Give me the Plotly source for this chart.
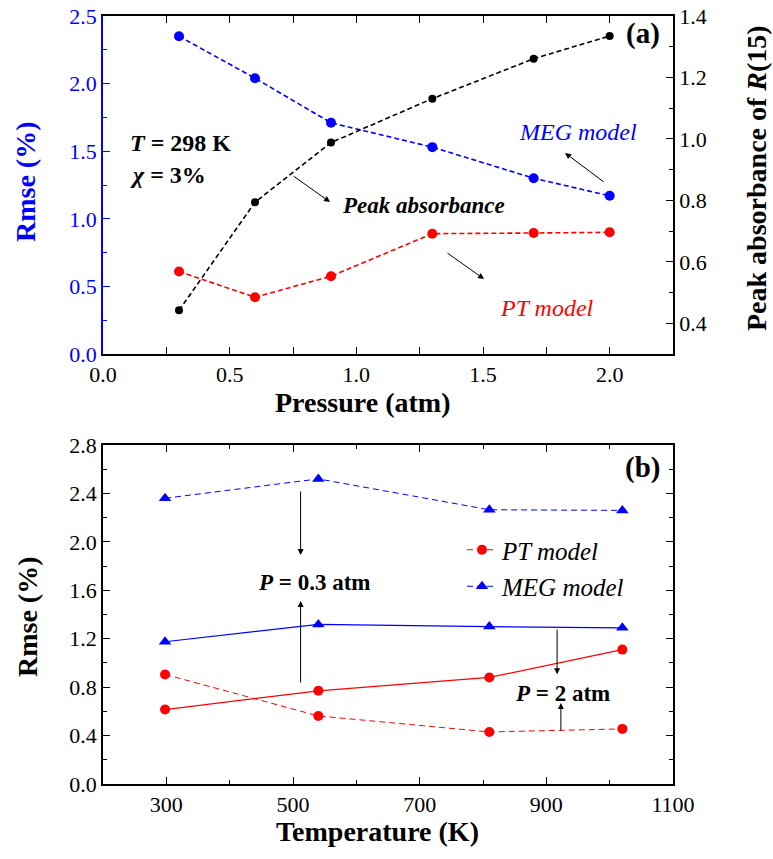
import plotly.graph_objects as go

# ---- data: panel (a) ----
pressure = [0.3, 0.6, 0.9, 1.3, 1.7, 2.0]
rmse_meg_a = [2.35, 2.04, 1.71, 1.53, 1.30, 1.17]
rmse_pt_a = [0.61, 0.42, 0.575, 0.89, 0.895, 0.90]
peak_abs = [0.442, 0.794, 0.988, 1.131, 1.261, 1.335]

# ---- data: panel (b) ----
temperature = [298, 540, 810, 1020]
pt_p03 = [0.905, 0.562, 0.43, 0.455]
pt_p2 = [0.615, 0.77, 0.88, 1.11]
meg_p03 = [2.36, 2.52, 2.265, 2.26]
meg_p2 = [1.175, 1.318, 1.30, 1.29]

BLUE = "#0000FF"
RED = "#FF0000"
FONT = "Liberation Serif"

W, H = 773, 859
XL, XR = 103, 673
A_T, A_B = 16, 354
B_T, B_B = 445, 784

def px(xp):
    return (xp - XL) / (XR - XL)

def py(yp):
    return 1 - yp / H

fig = go.Figure()

# panel (a)
fig.add_trace(go.Scatter(x=pressure, y=rmse_meg_a, mode="lines+markers",
                         line=dict(color=BLUE, width=1.6, dash="5px,3px"),
                         marker=dict(color=BLUE, size=10, symbol="circle"),
                         xaxis="x", yaxis="y", showlegend=False))
fig.add_trace(go.Scatter(x=pressure, y=rmse_pt_a, mode="lines+markers",
                         line=dict(color=RED, width=1.6, dash="5px,3px"),
                         marker=dict(color=RED, size=10, symbol="circle"),
                         xaxis="x", yaxis="y", showlegend=False))
fig.add_trace(go.Scatter(x=pressure, y=peak_abs, mode="lines+markers",
                         line=dict(color="black", width=1.6, dash="5px,3px"),
                         marker=dict(color="black", size=8, symbol="circle"),
                         xaxis="x", yaxis="y2", showlegend=False))

# panel (b)
fig.add_trace(go.Scatter(x=temperature, y=pt_p03, mode="lines+markers", name="<i>PT model</i>",
                         line=dict(color=RED, width=1, dash="6px,4px"),
                         marker=dict(color=RED, size=10, symbol="circle"),
                         xaxis="x2", yaxis="y3", showlegend=True, legendgroup="pt"))
fig.add_trace(go.Scatter(x=temperature, y=meg_p03, mode="lines+markers", name="<i>MEG model</i>",
                         line=dict(color=BLUE, width=1, dash="6px,4px"),
                         marker=dict(color=BLUE, size=11, symbol="triangle-up"),
                         xaxis="x2", yaxis="y3", showlegend=True, legendgroup="meg"))
fig.add_trace(go.Scatter(x=temperature, y=pt_p2, mode="lines+markers",
                         line=dict(color=RED, width=1.2),
                         marker=dict(color=RED, size=10, symbol="circle"),
                         xaxis="x2", yaxis="y3", showlegend=False))
fig.add_trace(go.Scatter(x=temperature, y=meg_p2, mode="lines+markers",
                         line=dict(color=BLUE, width=1.2),
                         marker=dict(color=BLUE, size=11, symbol="triangle-up"),
                         xaxis="x2", yaxis="y3", showlegend=False))

TICK = 22
tickfont = dict(family=FONT, size=TICK, color="black")

def axcommon(**kw):
    d = dict(showline=True, linewidth=1.6, linecolor="black", ticks="inside", ticklen=7,
             tickwidth=1.3, tickcolor="black", showgrid=False, zeroline=False,
             tickfont=tickfont, automargin=False)
    d.update(kw)
    return d

fig.update_layout(
    width=W, height=H,
    margin=dict(l=XL, r=W - XR, t=0, b=0),
    paper_bgcolor="white", plot_bgcolor="white",
    font=dict(family=FONT, color="black"),
    xaxis=axcommon(domain=[0, 1], anchor="y", range=[0, 2.25], tick0=0, dtick=0.5,
                   tickformat=".1f", mirror="allticks",
                   minor=dict(ticks="inside", ticklen=4, dtick=0.25, tickcolor="black", tickwidth=1.3)),
    yaxis=axcommon(domain=[py(A_B), py(A_T)], anchor="x", range=[0, 2.5], tick0=0, dtick=0.5,
                   tickformat=".1f", linecolor=BLUE, tickcolor=BLUE,
                   tickfont=dict(family=FONT, size=TICK, color=BLUE),
                   minor=dict(ticks="inside", ticklen=4, dtick=0.25, tickcolor=BLUE, tickwidth=1.3)),
    yaxis2=axcommon(overlaying="y", side="right", anchor="x", range=[0.3, 1.4], tick0=0.4, dtick=0.2,
                    tickformat=".1f",
                    minor=dict(ticks="inside", ticklen=4, dtick=0.1, tickcolor="black", tickwidth=1.3)),
    xaxis2=axcommon(domain=[0, 1], anchor="y3", range=[200, 1100], tick0=300, dtick=200,
                    mirror="allticks",
                    minor=dict(ticks="inside", ticklen=4, dtick=100, tickcolor="black", tickwidth=1.3)),
    yaxis3=axcommon(domain=[py(B_B), py(B_T)], anchor="x2", range=[0, 2.8], tick0=0, dtick=0.4,
                    tickformat=".1f", mirror="allticks",
                    minor=dict(ticks="inside", ticklen=4, dtick=0.2, tickcolor="black", tickwidth=1.3)),
    legend=dict(x=px(462), y=py(527), xanchor="left", yanchor="top",
                bgcolor="rgba(0,0,0,0)", font=dict(family=FONT, size=25, color="black"),
                tracegroupgap=1, itemwidth=30),
)

def txt(x, y, text, xref, yref, size=21, color="black", xanchor="center", angle=0):
    fig.add_annotation(x=x, y=y, xref=xref, yref=yref, text=text, showarrow=False, textangle=angle,
                       font=dict(family=FONT, size=size, color=color), xanchor=xanchor, yanchor="middle")

def arrow(x0, y0, x1, y1, xref, yref):
    fig.add_annotation(x=x1, y=y1, ax=x0, ay=y0, xref=xref, yref=yref, axref=xref, ayref=yref,
                       text="", showarrow=True, arrowhead=2, arrowsize=1.2, arrowwidth=1,
                       arrowcolor="black")

# axis titles
txt(px(362), py(402), "<b>Pressure (atm)</b>", "paper", "paper", size=28)
txt(px(377), py(831), "<b>Temperature (K)</b>", "paper", "paper", size=28)
txt(px(25), py(182), "<b>Rmse (%)</b>", "paper", "paper", size=28, color=BLUE, angle=-90)
txt(px(27), py(617), "<b>Rmse (%)</b>", "paper", "paper", size=28, angle=-90)
txt(px(756), py(178), "<b>Peak absorbance of <i>R</i>(15)</b>", "paper", "paper", size=28, angle=-90)

# panel (a) annotations
txt(2.132, 2.374, "<b>(a)</b>", "x", "y", size=29)
txt(0.099, 1.56, "<b><i>T</i> = 298 K</b>", "x", "y", size=24, xanchor="left")
txt(0.099, 1.324, "<b><i>χ</i> = 3%</b>", "x", "y", size=24, xanchor="left")
txt(0.936, 1.095, "<b><i>Peak absorbance</i></b>", "x", "y", size=23, xanchor="left")
txt(1.875, 1.642, "<i>MEG model</i>", "x", "y", size=24, color=BLUE)
txt(1.753, 0.34, "<i>PT model</i>", "x", "y", size=24, color=RED)
arrow(0.746, 1.324, 0.896, 1.124, "x", "y")
arrow(1.982, 1.265, 1.824, 1.487, "x", "y")
arrow(1.354, 0.754, 1.504, 0.555, "x", "y")

# panel (b) annotations
txt(1052, 2.61, "<b>(b)</b>", "x2", "y3", size=29)
txt(534, 1.668, "<b><i>P</i> = 0.3 atm</b>", "x2", "y3", size=23)
txt(925, 0.75, "<b><i>P</i> = 2 atm</b>", "x2", "y3", size=23)
arrow(512, 2.429, 512, 1.892, "x2", "y3")
arrow(512, 0.825, 512, 1.511, "x2", "y3")
arrow(917, 1.288, 917, 0.907, "x2", "y3")
arrow(923, 0.428, 923, 0.668, "x2", "y3")

fig.write_html("out.html")
